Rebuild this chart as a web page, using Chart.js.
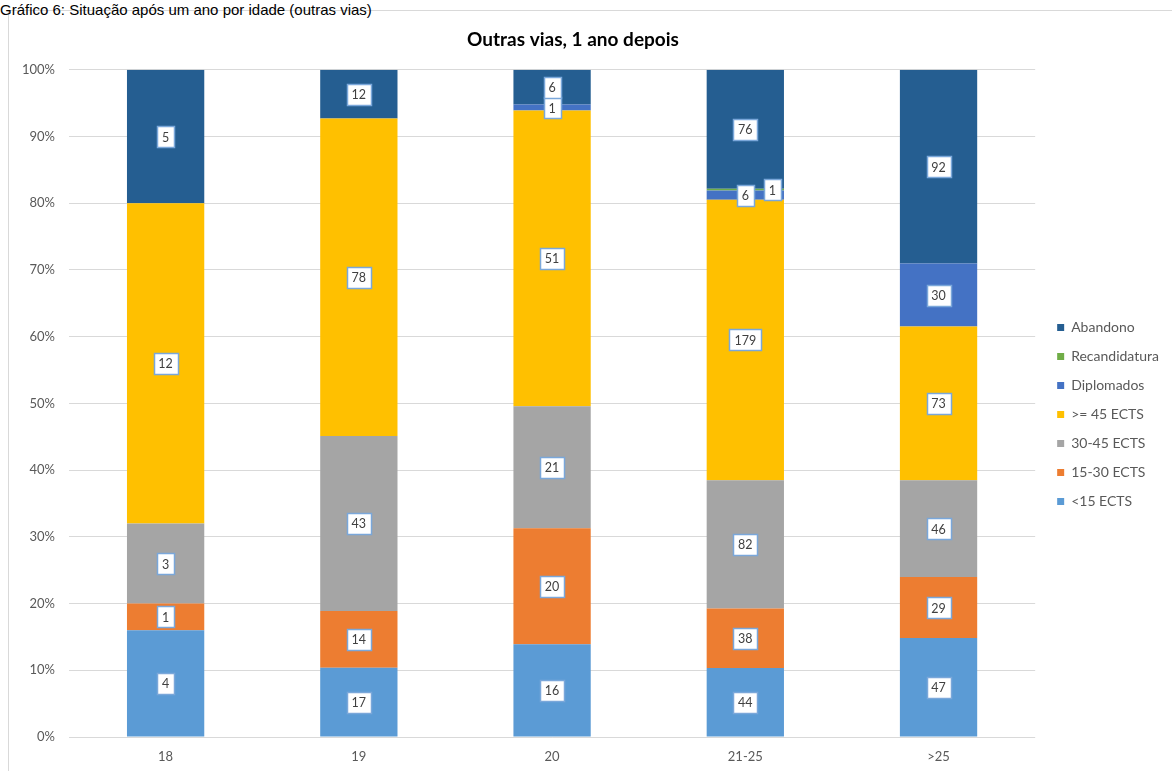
<!DOCTYPE html>
<html><head><meta charset="utf-8">
<script src="https://cdn.jsdelivr.net/npm/chart.js@4"></script>
<style>
html,body{margin:0;padding:0;background:#fff}
body{width:1172px;height:771px;overflow:hidden;position:relative}
#cap{position:absolute;left:0;top:2px;font:15px "Liberation Sans",Arial,sans-serif;line-height:15px;color:#000;white-space:nowrap}
#frame{position:absolute;left:8px;top:10px;width:1200px;height:800px;border:1px solid #d9d9d9;box-sizing:border-box}
#c{position:absolute;left:0;top:0}
</style></head>
<body>
<div id="frame"></div>
<div id="cap">Gráfico 6: Situação após um ano por idade (outras vias)</div>
<canvas id="c" width="1172" height="771"></canvas>
<script>
const categories = ['18', '19', '20', '21-25', '>25'];
const seriesNames = ['<15 ECTS', '15-30 ECTS', '30-45 ECTS', '>= 45 ECTS', 'Diplomados', 'Recandidatura', 'Abandono'];
const lt15 = [4, 17, 16, 44, 47];
const ects15_30 = [1, 14, 20, 38, 29];
const ects30_45 = [3, 43, 21, 82, 46];
const ge45 = [12, 78, 51, 179, 73];
const diplomados = [0, 0, 1, 6, 30];
const recandidatura = [0, 0, 0, 1, 0];
const abandono = [5, 12, 6, 76, 92];
const yTickStep = 10; // percent
const chartTitle = 'Outras vias, 1 ano depois';

const seriesCounts = [lt15, ects15_30, ects30_45, ge45, diplomados, recandidatura, abandono];
const seriesColors = ['#5b9bd5', '#ed7d31', '#a5a5a5', '#ffc000', '#4472c4', '#70ad47', '#255e91'];

const totals = categories.map((_, i) => seriesCounts.reduce((s, arr) => s + arr[i], 0));

const FONT = 'Lato, "Open Sans", sans-serif';
const TXT = '#595959';

const datasets = seriesCounts.map((arr, k) => ({
  label: seriesNames[k],
  data: arr.map((v, i) => v / totals[i] * 100),
  counts: arr,
  backgroundColor: seriesColors[k],
  borderWidth: 0,
  categoryPercentage: 1.0,
  barPercentage: 0.4
}));

const labelPlugin = {
  id: 'boxLabels',
  afterDatasetsDraw(chart) {
    const ctx = chart.ctx;
    ctx.save();
    ctx.font = '12.5px ' + FONT;
    ctx.textAlign = 'center';
    ctx.textBaseline = 'middle';
    const placed = categories.map(() => []);
    chart.data.datasets.forEach((ds, di) => {
      const meta = chart.getDatasetMeta(di);
      meta.data.forEach((el, i) => {
        const v = ds.counts[i];
        if (!v) return;
        const txt = String(v);
        const w = Math.round(ctx.measureText(txt).width + 10);
        const h = 21;
        let cx = el.x;
        const cy = (el.y + el.base) / 2;
        // avoid overlapping a previous label in the same bar: move right
        placed[i].forEach(p => {
          const ovY = Math.min(cy + h / 2, p.y + p.h / 2) - Math.max(cy - h / 2, p.y - p.h / 2);
          const ovX = Math.min(cx + w / 2, p.x + p.w / 2) - Math.max(cx - w / 2, p.x - p.w / 2);
          if (ovY > 4 && ovX > 0) cx = p.x + p.w / 2 + 10 + w / 2;
        });
        placed[i].push({x: cx, y: cy, w, h});
        const x0 = Math.round(cx - w / 2) + 0.5, y0 = Math.round(cy - h / 2) + 0.5;
        ctx.fillStyle = '#ffffff';
        ctx.fillRect(x0, y0, w, h);
        ctx.strokeStyle = '#7aa7da';
        ctx.lineWidth = 1.5;
        ctx.strokeRect(x0, y0, w, h);
        ctx.fillStyle = '#404040';
        ctx.fillText(txt, cx, cy + 1);
      });
    });
    ctx.restore();
  }
};

const layoutShift = {
  id: 'layoutShift',
  afterLayout(chart) {
    const lg = chart.legend;
    if (lg) {
      lg.left += 7; lg.right += 7;
      lg.top += 29; lg.bottom += 29;
    }
    const tb = chart.titleBlock;
    if (tb) { tb.left -= 8; tb.right -= 8; }
  }
};

new Chart(document.getElementById('c'), {
  type: 'bar',
  data: { labels: categories, datasets },
  plugins: [labelPlugin, layoutShift],
  options: {
    responsive: false,
    animation: false,
    devicePixelRatio: 1,
    layout: { padding: { left: 0, right: 10, top: 0, bottom: 0 } },
    plugins: {
      title: {
        display: true,
        text: chartTitle,
        color: '#000',
        font: { family: FONT, size: 19, weight: 'bold' },
        padding: { top: 28, bottom: 19 }
      },
      legend: {
        position: 'right',
        reverse: true,
        labels: {
          boxWidth: 7,
          boxHeight: 7,
          padding: 15,
          color: TXT,
          font: { family: FONT, size: 14 }
        }
      },
      tooltip: { enabled: false }
    },
    scales: {
      x: {
        stacked: true,
        grid: { display: false, drawTicks: false },
        border: { display: false },
        ticks: { color: TXT, font: { family: FONT, size: 13 }, padding: 12 },
        afterFit(s) { s.height = 34; }
      },
      y: {
        stacked: true,
        min: 0,
        max: 100,
        ticks: {
          stepSize: yTickStep,
          color: TXT,
          font: { family: FONT, size: 13 },
          padding: 14,
          callback: v => v + '%'
        },
        grid: { color: '#d9d9d9', drawTicks: false, lineWidth: 1 },
        border: { display: false },
        afterFit(s) { s.width = 69; }
      }
    }
  }
});
</script>
</body></html>
